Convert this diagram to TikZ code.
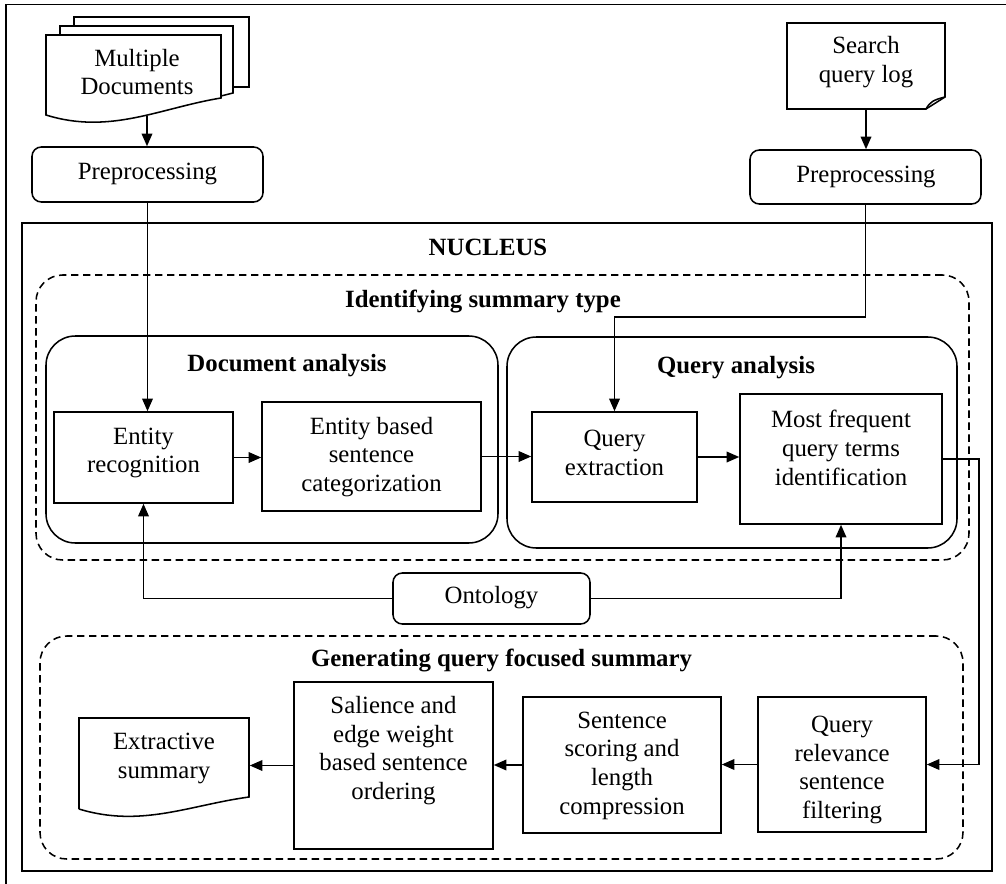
\documentclass[tikz,border=0pt]{standalone}
\usepackage{fontspec}
\setmainfont{Liberation Serif}
\usetikzlibrary{arrows.meta,fit,calc}
\begin{document}
\begin{tikzpicture}[x=0.75pt,y=-0.75pt,
  font=\fontsize{18.6}{21.5}\selectfont,
  line width=1.15pt,
  box/.style={draw, inner sep=0pt},
  rbox/.style={draw, inner sep=0pt, rounded corners=7pt},
  cont/.style={draw, inner sep=0pt, rounded corners=22pt},
  dcont/.style={draw, inner sep=0pt, rounded corners=20pt, dash pattern=on 5.5pt off 3.5pt},
  shapebox/.style={inner sep=0pt},
  txt/.style={align=center, inner sep=0pt},
  ttl/.style={inner sep=0pt, font=\fontsize{18.6}{21.5}\selectfont\bfseries},
  arr/.style={-{Triangle[length=9.5pt,width=8pt]}}
]
\useasboundingbox (0,0) rectangle (1006,884);

% partial outer frame
\draw (6,884) -- (6,4.5) -- (1006,4.5);

% ---- top inputs ----
% Multiple documents (stacked pages)
\draw[fill=white] (74,87) -- (74,17) -- (249,17) -- (249,87) -- cycle;
\draw[fill=white] (60,96) -- (60,26) -- (233,26) -- (233,93) -- (221,96) -- cycle;
\draw[fill=white] (46,115) -- (46,35) -- (221,35) -- (221,98)
  .. controls (160,108) and (110,135) .. (46,115) -- cycle;
\node[shapebox, fit={(46,35)(221,115)}] (md) {};
\node[txt] (mdt) at (137,72) {Multiple\\Documents};
\coordinate (mdb) at (147,116);

% Search query log (folded corner)
\draw (787,23) -- (945,23) -- (945,97) -- (926,109) -- (787,109) -- cycle;
\draw (926,109) .. controls (930,102) and (933,100) .. (945,97);
\node[shapebox, fit={(787,23)(945,109)}] (sql) {};
\node[txt] (sqlt) at (866,62) {Search\\query log};

% Preprocessing boxes
\node[rbox, fit={(32,147)(263,202)}] (preL) {};
\node[txt] (preLt) at (147.5,174) {Preprocessing};
\node[rbox, fit={(750,150)(981,204)}] (preR) {};
\node[txt] (preRt) at (866,177) {Preprocessing};

% ---- NUCLEUS ----
\node[box, fit={(22,223)(992,871)}] (nuc) {};
\node[ttl] (nuct) at (488,247) {NUCLEUS};

% Identifying summary type
\node[dcont, fit={(36,275)(969,560)}] (ist) {};
\node[ttl] (istt) at (483,302) {Identifying summary type};

\node[cont, fit={(46,336)(498,543)}] (da) {};
\node[ttl] (dat) at (287,366) {Document analysis};
\node[cont, fit={(507,337)(957,548)}] (qa) {};
\node[ttl] (qat) at (736,368) {Query analysis};

\node[box, fit={(54,412)(233,503)}] (er) {};
\node[txt] (ert) at (143.5,453) {Entity\\recognition};
\node[box, fit={(262,402)(481,511)}] (eb) {};
\node[txt] (ebt) at (371.5,457) {Entity based\\sentence\\categorization};
\node[box, fit={(532,412)(697,502)}] (qe) {};
\node[txt] (qet) at (614.5,453) {Query\\extraction};
\node[box, fit={(740,394)(942,524)}] (mf) {};
\node[txt] (mft) at (841,448) {Most frequent\\query terms\\identification};

% Ontology
\node[rbox, fit={(393,573)(590,624)}] (onto) {};
\node[txt] (ontot) at (491.5,598) {Ontology};

% Generating query focused summary
\node[dcont, fit={(40,636)(963,859)}] (gqs) {};
\node[ttl] (gqst) at (501.5,661) {Generating query focused summary};

\node[box, fit={(294,682)(493,849)}] (sal) {};
\node[txt] (salt) at (393.5,750.5) {Salience and\\edge weight\\based sentence\\ordering};
\node[box, fit={(523,697)(721,833)}] (ss) {};
\node[txt] (sst) at (622,765.5) {Sentence\\scoring and\\length\\compression};
\node[box, fit={(758,697)(926,832)}] (qr) {};
\node[txt] (qrt) at (842,770) {Query\\relevance\\sentence\\filtering};

% Extractive summary (document shape)
\draw (79,809) -- (79,718) -- (249,718) -- (249,797)
  .. controls (190,805) and (141,828) .. (79,809);
\node[shapebox, fit={(79,718)(249,797)}] (ext) {};
\node[txt] (extt) at (164,758.5) {Extractive\\summary};

% ---- connectors ----
\draw[arr] (mdb) -- (mdb |- preL.north);
\draw[arr] (sql.south) -- (sql.south |- preR.north);
\draw[arr] (preL.south) -- (preL.south |- er.north);
\coordinate (qbend) at (865.5,317);
\draw[arr] (preR.south) -- (qbend) -| (qe.north);
\draw[arr] (er.east) -- (er.east -| eb.west);
\draw[arr] (eb.east) -- (eb.east -| qe.west);
\draw[arr] (qe.east) -- (qe.east -| mf.west);
\coordinate (mfbend) at (979,459);
\draw[arr] (mf.east) -- (mfbend) |- (qr.east);
\draw[arr] (onto.west) -| (er.south);
\draw[arr] (onto.east) -| (mf.south);
\draw[arr] (qr.west) -- (qr.west -| ss.east);
\draw[arr] (ss.west) -- (ss.west -| sal.east);
\draw[arr] (sal.west) -- (sal.west -| ext.east);
\end{tikzpicture}
\end{document}
